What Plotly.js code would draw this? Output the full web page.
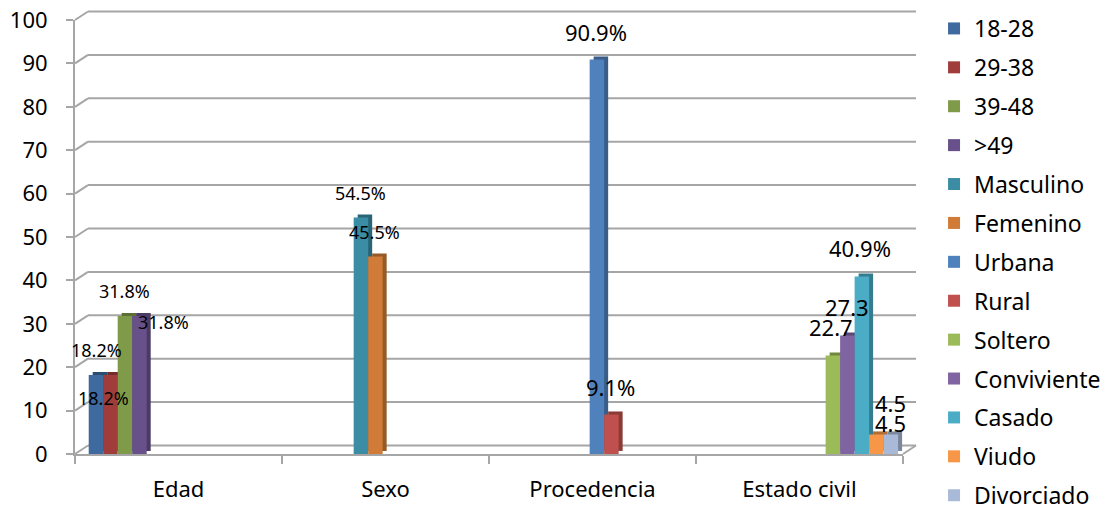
<!DOCTYPE html>
<html>
<head>
<meta charset="utf-8">
<script src="https://cdn.plot.ly/plotly-3.0.1.min.js"></script>
<style>
  html, body { margin: 0; padding: 0; background: #ffffff; }
  #chart { width: 1109px; height: 508px; }
</style>
</head>
<body>
<div id="chart"></div>
<script>
// ---- data ----
const categories = ['Edad', 'Sexo', 'Procedencia', 'Estado civil'];
const seriesNames = ['18-28', '29-38', '39-48', '>49', 'Masculino', 'Femenino', 'Urbana', 'Rural',
                     'Soltero', 'Conviviente', 'Casado', 'Viudo', 'Divorciado'];
const seriesCategory = ['Edad', 'Edad', 'Edad', 'Edad', 'Sexo', 'Sexo', 'Procedencia', 'Procedencia',
                        'Estado civil', 'Estado civil', 'Estado civil', 'Estado civil', 'Estado civil'];
const seriesValues = [18.2, 18.2, 31.8, 31.8, 54.5, 45.5, 90.9, 9.1, 22.7, 27.3, 40.9, 4.5, 4.5];
const valueLabels = ['18.2%', '18.2%', '31.8%', '31.8%', '54.5%', '45.5%', '90.9%', '9.1%',
                     '22.7', '27.3', '40.9%', '4.5', '4.5'];
const yTicks = [0, 10, 20, 30, 40, 50, 60, 70, 80, 90, 100];

// ---- style ----
const FONT = 'Noto Sans, Open Sans, DejaVu Sans, sans-serif';
const frontColors = ['#3e6a9f', '#a03d3b', '#7f9b49', '#68508b', '#3b8ca5', '#d07b37', '#4f81bd',
                     '#c0504d', '#9bbb59', '#8064a2', '#4bacc6', '#f79646', '#a9bad9'];
const labelSizes = [18, 18, 18, 18, 18, 18, 22, 22, 22, 22, 22, 22, 22];
// label offsets (px) relative to category centre / bar top, as placed in the original
const labelDX = [-82, -75.5, -54, -15.5, -25.5, -11, 3.5, 17.5, 31.5, 47, 60, 90.5, 90.5];
const labelDY = [25, -23, 25, -6, 24.5, 24.5, 27.5, 27.5, 28.5, 28.5, 28.5, 31.5, 11.5];
const GRID = '#a6a6a6';

function shade(hex, f) {
  const n = parseInt(hex.slice(1), 16);
  const r = Math.round(((n >> 16) & 255) * f);
  const g = Math.round(((n >> 8) & 255) * f);
  const b = Math.round((n & 255) * f);
  return 'rgb(' + r + ',' + g + ',' + b + ')';
}

const traces = [];
// depth faces (drawn behind, slightly offset up/right)
seriesNames.forEach((name, i) => {
  traces.push({
    type: 'bar', name: name, x: [seriesCategory[i]], y: [seriesValues[i]],
    xaxis: 'x2', yaxis: 'y2', legendgroup: 'g' + i, showlegend: false,
    marker: { color: shade(frontColors[i], 0.72) }, hoverinfo: 'skip'
  });
});
// front faces
seriesNames.forEach((name, i) => {
  traces.push({
    type: 'bar', name: name, x: [seriesCategory[i]], y: [seriesValues[i]],
    xaxis: 'x3', yaxis: 'y3', legendgroup: 'g' + i,
    marker: { color: frontColors[i] }
  });
});

const annotations = seriesNames.map((name, i) => ({
  xref: 'x', yref: 'y', x: seriesCategory[i], y: seriesValues[i],
  text: valueLabels[i], showarrow: false, xshift: labelDX[i], yshift: labelDY[i],
  font: { family: FONT, size: labelSizes[i], color: '#000000' }
}));

// back-wall gridlines (3D look)
const DX = 13 / 828, DY = 8.5 / 434;
const shapes = [];
yTicks.forEach(v => {
  const f = v / 100;
  shapes.push({ type: 'line', xref: 'paper', yref: 'y domain', x0: 0, y0: f, x1: DX, y1: f + DY,
                line: { color: GRID, width: 2 }, layer: 'below' });
  shapes.push({ type: 'line', xref: 'paper', yref: 'y domain', x0: DX, y0: f + DY, x1: 1 + DX, y1: f + DY,
                line: { color: GRID, width: 2 }, layer: 'below' });
});
shapes.push({ type: 'line', xref: 'paper', yref: 'y domain', x0: 1, y0: 0, x1: 1 + DX, y1: DY,
              line: { color: GRID, width: 2 }, layer: 'below' });

const hiddenCat = { type: 'category', categoryorder: 'array', categoryarray: categories,
                    overlaying: 'x', visible: false, fixedrange: true };

const layout = {
  width: 1109, height: 508,
  margin: { l: 75, r: 206, t: 20, b: 54, autoexpand: false },
  paper_bgcolor: '#ffffff', plot_bgcolor: 'rgba(0,0,0,0)',
  font: { family: FONT, color: '#000000' },
  barmode: 'group', bargap: 0.09, bargroupgap: 0,
  showlegend: true,
  legend: {
    x: 1.0375, xanchor: 'left', y: 1.030, yanchor: 'top',
    font: { family: FONT, size: 23, color: '#000000' },
    tracegroupgap: 6, traceorder: 'grouped', bgcolor: 'rgba(0,0,0,0)',
    maxheight: 800
  },
  xaxis: {
    type: 'category', categoryorder: 'array', categoryarray: categories,
    range: [-0.5, 3.5], showgrid: false, zeroline: false,
    showline: true, linecolor: GRID, linewidth: 2,
    ticks: 'outside', ticklen: 8, tickwidth: 2, tickcolor: GRID, tickson: 'boundaries',
    tickfont: { family: FONT, size: 22, color: '#000000' }, ticklabelstandoff: 15,
    fixedrange: true
  },
  xaxis2: Object.assign({}, hiddenCat, { range: [-0.5 - 4.4 / 207 - 4 / 207, 3.5 - 4.4 / 207 - 4 / 207] }),
  xaxis3: Object.assign({}, hiddenCat, { range: [-0.5 - 4.4 / 207, 3.5 - 4.4 / 207] }),
  yaxis: {
    range: [0, 100], tickvals: yTicks, ticktext: yTicks.map(String),
    showgrid: false, zeroline: false,
    showline: true, linecolor: GRID, linewidth: 2,
    ticks: 'outside', ticklen: 7, tickwidth: 2, tickcolor: GRID,
    tickfont: { family: FONT, size: 22, color: '#000000' }, ticklabelstandoff: 14,
    fixedrange: true
  },
  yaxis2: { range: [-0.7, 99.3], overlaying: 'y', visible: false, fixedrange: true },
  yaxis3: { range: [0, 100], overlaying: 'y', visible: false, fixedrange: true },
  annotations: annotations,
  shapes: shapes
};

Plotly.newPlot('chart', traces, layout, { displayModeBar: false, staticPlot: false });
</script>
</body>
</html>
